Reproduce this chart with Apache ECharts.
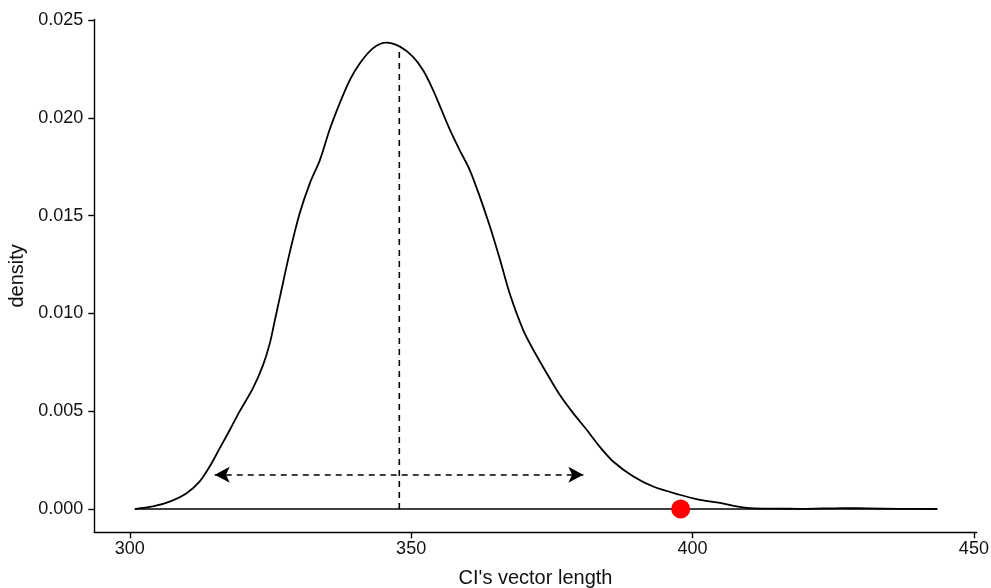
<!DOCTYPE html>
<html>
<head>
<meta charset="utf-8">
<script src="https://cdn.jsdelivr.net/npm/echarts@6/dist/echarts.min.js"></script>
<style>
  html, body { margin: 0; padding: 0; background: #ffffff; }
  #chart { width: 991px; height: 588px; }
</style>
</head>
<body>
<div id="chart"></div>
<script>
// Density curve (x = CI's vector length, y = density)
const densityX = [300.9, 304.1, 307.1, 310.1, 312.4, 314.2, 316.0, 317.8, 319.5, 321.9,
  323.7, 324.9, 325.8, 326.7, 328.4, 330.2, 332.0, 333.8, 335.5, 337.3,
  339.1, 340.9, 343.2, 345.6, 348.0, 350.3, 352.1, 353.9, 355.4, 356.9,
  358.6, 360.4, 362.2, 364.0, 365.8, 367.5, 369.9, 371.7, 374.1, 376.4,
  378.8, 381.2, 383.5, 385.9, 389.5, 393.0, 397.7, 401.3, 404.9, 407.0,
  410.2, 415.0, 419.1, 423.0, 426.8, 431.0, 436.8, 443.5];
const densityY = [0.00000, 0.00013, 0.00038, 0.00081, 0.00140, 0.00217, 0.00311, 0.00405, 0.00498, 0.00618,
  0.00737, 0.00848, 0.00967, 0.01086, 0.01308, 0.01512, 0.01665, 0.01785, 0.01938, 0.02074,
  0.02193, 0.02279, 0.02355, 0.02384, 0.02364, 0.02313, 0.02244, 0.02142, 0.02040, 0.01938,
  0.01836, 0.01734, 0.01597, 0.01444, 0.01274, 0.01103, 0.00916, 0.00814, 0.00694, 0.00584,
  0.00490, 0.00405, 0.00319, 0.00243, 0.00166, 0.00115, 0.00073, 0.00047, 0.00031, 0.00018,
  0.00005, 0.00002, 0.00001, 0.00003, 0.00005, 0.00003, 0.00001, 0.00000];

// Mean marker (vertical dashed line) and interval (double arrow)
const meanX = 347.9;
const meanTopY = 0.02360;
const intervalX = [315.1, 380.6];
const intervalY = 0.00175;

// Observed value (red point)
const observedX = 397.9;
const observedY = 0;

// Axis ticks
const xTicks = [300, 350, 400, 450];
const yTicks = [0, 0.005, 0.010, 0.015, 0.020, 0.025];
const xRange = [293.7, 450.5];
const yRange = [-0.00119, 0.02503];

const curve = densityX.map((x, i) => [x, densityY[i]]);
const baseline = [[densityX[0], 0], [densityX[densityX.length - 1], 0]];

const textColor = '#111111';
const fontFamily = 'Liberation Sans, Arial, Helvetica, sans-serif';

const chart = echarts.init(document.getElementById('chart'));
chart.setOption({
  animation: false,
  backgroundColor: '#ffffff',
  grid: { left: 94.3, right: 14.3, top: 19.4, bottom: 55.7, containLabel: false, outerBoundsMode: 'none' },
  xAxis: {
    type: 'value',
    min: xRange[0], max: xRange[1],
    name: "CI's vector length",
    nameLocation: 'middle',
    nameGap: 36,
    nameTextStyle: { fontSize: 20, color: textColor, fontFamily: fontFamily },
    axisLine: { show: true, onZero: false, lineStyle: { color: '#000', width: 1.4 } },
    axisTick: { show: true, length: 6, customValues: xTicks, lineStyle: { color: '#000', width: 1.4 } },
    axisLabel: { customValues: xTicks, fontSize: 18, color: textColor, fontFamily: fontFamily, margin: 8,
      formatter: v => String(Math.round(v)) },
    splitLine: { show: false }
  },
  yAxis: {
    type: 'value',
    min: yRange[0], max: yRange[1],
    name: 'density',
    nameLocation: 'middle',
    nameRotate: 90,
    nameGap: 66,
    nameTextStyle: { fontSize: 20, color: textColor, fontFamily: fontFamily },
    axisLine: { show: true, onZero: false, lineStyle: { color: '#000', width: 1.4 } },
    axisTick: { show: true, length: 6, customValues: yTicks, lineStyle: { color: '#000', width: 1.4 } },
    axisLabel: { customValues: yTicks, fontSize: 18, color: textColor, fontFamily: fontFamily, margin: 11,
      formatter: v => v.toFixed(3) },
    splitLine: { show: false }
  },
  series: [
    {
      name: 'baseline', type: 'line', data: baseline, symbol: 'none',
      lineStyle: { color: '#000', width: 1.6 }, silent: true, z: 2
    },
    {
      name: 'density', type: 'line', data: curve, symbol: 'none', smooth: 0.3,
      lineStyle: { color: '#000', width: 1.8 }, silent: true, z: 3
    },
    {
      name: 'mean', type: 'line', data: [[meanX, 0], [meanX, meanTopY]], symbol: 'none',
      lineStyle: { color: '#000', width: 1.6, type: [6, 5] }, silent: true, z: 3,
      markLine: {
        silent: true,
        symbol: ['arrow', 'arrow'],
        symbolSize: [12, 15],
        label: { show: false },
        lineStyle: { color: '#000', width: 1.6, type: [6, 5] },
        data: [[{ coord: [intervalX[0], intervalY] }, { coord: [intervalX[1], intervalY] }]]
      }
    },
    {
      name: 'observed', type: 'scatter', data: [[observedX, observedY]],
      symbol: 'circle', symbolSize: 19,
      itemStyle: { color: '#ff0000', opacity: 1 }, silent: true, z: 5
    }
  ]
});
</script>
</body>
</html>
